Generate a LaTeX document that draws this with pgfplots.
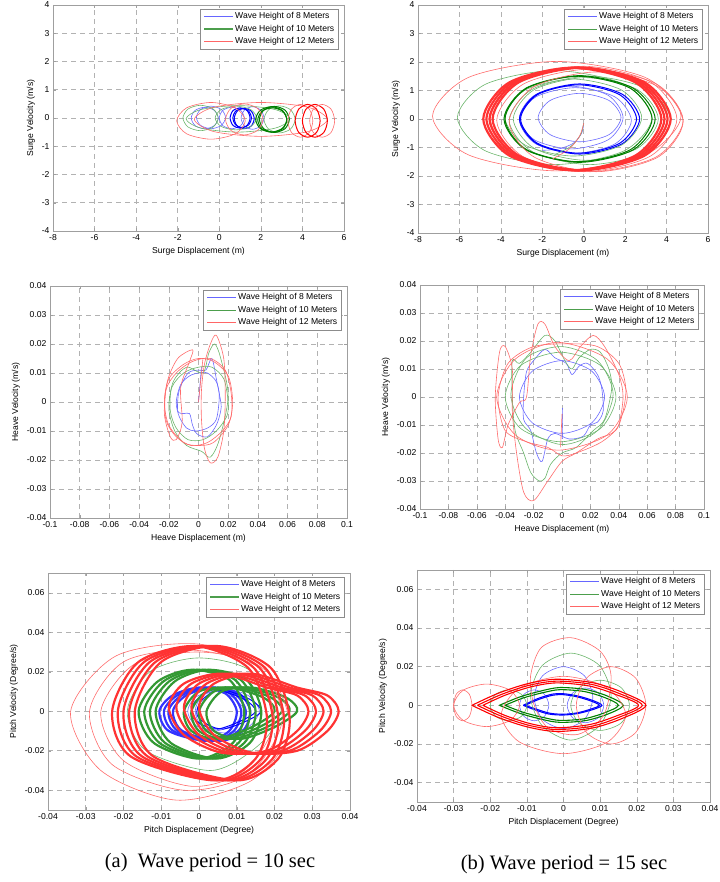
\documentclass[border=0pt]{standalone}
\usepackage{pgfplots}
\pgfplotsset{compat=1.18}
\usepackage{fontspec}
\setmainfont{Liberation Sans}
\newfontfamily\capfont{Liberation Serif}
\definecolor{mblue}{rgb}{0,0,1}
\definecolor{mgreen}{rgb}{0,0.5,0}
\definecolor{mred}{rgb}{1,0,0}
\definecolor{lblue}{rgb}{0.4,0.4,1}
\definecolor{lgreen}{rgb}{0.3,0.62,0.3}
\definecolor{lred}{rgb}{1,0.4,0.4}
\definecolor{legframe}{rgb}{0.55,0.55,0.55}
\tikzset{
  L/.style={smooth cycle, line width=0.6pt, color=#1!58},
  B/.style={smooth cycle, line width=1.0pt, color=#1},
  T/.style={smooth cycle, line width=2.2pt, color=#1!80},
  O/.style={smooth, line width=0.6pt, color=#1!58},
  BO/.style={smooth, line width=1.1pt, color=#1},
}
\pgfplotsset{
  mstyle/.style={
    scale only axis,
    scaled ticks=false,
    axis line style={gray!75, line width=0.5pt},
    every tick/.style={gray!75},
    tick align=inside,
    major tick length=3pt,
    grid=major,
    major grid style={dash pattern=on 5pt off 4pt, gray!60, line width=0.5pt},
    tick label style={font=\fontsize{8.6}{10}\selectfont},
    label style={font=\fontsize{8.6}{10}\selectfont},
  },
}
\newcommand{\mylegend}[1][0.8pt]{%
  \draw[draw=legframe, fill=white, line width=0.5pt] ([xshift=-144pt,yshift=-44pt]rel axis cs:1,1) rectangle ([xshift=-6pt,yshift=-4pt]rel axis cs:1,1);
  \node[anchor=west, inner sep=0pt] at ([xshift=-140pt,yshift=-11.5pt]rel axis cs:1,1) {\textcolor{lblue}{\rule[-0.4pt]{29pt}{0.8pt}}};
  \node[anchor=west, inner sep=0pt] at ([xshift=-140pt,yshift=-24pt]rel axis cs:1,1) {\textcolor{lgreen}{\rule[-0.5\dimexpr#1\relax]{29pt}{#1}}};
  \node[anchor=west, inner sep=0pt] at ([xshift=-140pt,yshift=-36.5pt]rel axis cs:1,1) {\textcolor{lred}{\rule[-0.4pt]{29pt}{0.8pt}}};
  \node[anchor=west, inner sep=0pt, text=black, font=\fontsize{8.6}{10}\selectfont] at ([xshift=-109pt,yshift=-11.5pt]rel axis cs:1,1) {Wave Height of 8 Meters};
  \node[anchor=west, inner sep=0pt, text=black, font=\fontsize{8.6}{10}\selectfont] at ([xshift=-109pt,yshift=-24pt]rel axis cs:1,1) {Wave Height of 10 Meters};
  \node[anchor=west, inner sep=0pt, text=black, font=\fontsize{8.6}{10}\selectfont] at ([xshift=-109pt,yshift=-36.5pt]rel axis cs:1,1) {Wave Height of 12 Meters};
}
\begin{document}
\begin{tikzpicture}
\useasboundingbox (0,0) rectangle (719pt,882pt);
% ================= TL: surge, 10 s
\begin{axis}[mstyle, at={(53pt,651pt)}, anchor=south west, width=291pt, height=226pt,
  xmin=-8, xmax=6, ymin=-4, ymax=4,
  xtick={-8,-6,-4,-2,0,2,4,6}, xticklabels={-8,-6,-4,-2,0,2,4,6},
  ytick={-4,-3,-2,-1,0,1,2,3,4}, yticklabels={-4,-3,-2,-1,0,1,2,3,4},
  xlabel={Surge Displacement (m)}, ylabel={Surge Velocity (m/s)}]
\addplot[L=mblue,forget plot] coordinates {(-0.05,0) (-0.24,0.27) (-0.7,0.38) (-1.16,0.27) (-1.35,0) (-1.16,-0.27) (-0.7,-0.38) (-0.24,-0.27)};
\addplot[L=mblue,forget plot] coordinates {(0.3,0.02) (0.1,0.3) (-0.4,0.42) (-0.9,0.3) (-1.1,0.02) (-0.9,-0.26) (-0.4,-0.38) (0.1,-0.26)};
\addplot[L=mblue,forget plot] coordinates {(1.2,0) (1.03,0.27) (0.6,0.38) (0.17,0.27) (0,0) (0.17,-0.27) (0.6,-0.38) (1.03,-0.27)};
\addplot[L=mblue,forget plot] coordinates {(2.15,0) (1.99,0.28) (1.6,0.4) (1.21,0.28) (1.05,0) (1.21,-0.28) (1.6,-0.4) (1.99,-0.28)};
\addplot[B=mblue,forget plot] coordinates {(1.48,0) (1.34,0.26) (1.0,0.36) (0.66,0.26) (0.52,0) (0.66,-0.26) (1.0,-0.36) (1.34,-0.26)};
\addplot[B=mblue,forget plot] coordinates {(1.68,-0.02) (1.54,0.24) (1.2,0.34) (0.86,0.24) (0.72,-0.02) (0.86,-0.28) (1.2,-0.38) (1.54,-0.28)};
\addplot[B=mblue,forget plot] coordinates {(1.55,0) (1.42,0.24) (1.1,0.34) (0.78,0.24) (0.65,0) (0.78,-0.24) (1.1,-0.34) (1.42,-0.24)};
\addplot[L=mgreen,forget plot] coordinates {(-0.05,0) (-0.3,0.32) (-0.9,0.45) (-1.5,0.32) (-1.75,0) (-1.5,-0.32) (-0.9,-0.45) (-0.3,-0.32)};
\addplot[L=mgreen,forget plot] coordinates {(1.8,0) (1.51,0.3) (0.8,0.42) (0.09,0.3) (-0.2,0) (0.09,-0.3) (0.8,-0.42) (1.51,-0.3)};
\addplot[L=mgreen,forget plot] coordinates {(3.65,-0.05) (3.43,0.29) (2.9,0.43) (2.37,0.29) (2.15,-0.05) (2.37,-0.39) (2.9,-0.53) (3.43,-0.39)};
\addplot[L=mgreen,forget plot] coordinates {(3.4,-0.03) (2.68,0.3) (0.9,0.44) (-0.88,0.3) (-1.6,-0.03) (-0.88,-0.36) (0.9,-0.5) (2.68,-0.36)};
\addplot[B=mgreen,forget plot] coordinates {(3.25,-0.05) (3.03,0.27) (2.5,0.4) (1.97,0.27) (1.75,-0.05) (1.97,-0.37) (2.5,-0.5) (3.03,-0.37)};
\addplot[B=mgreen,forget plot] coordinates {(3.37,-0.05) (3.16,0.28) (2.65,0.41) (2.14,0.28) (1.93,-0.05) (2.14,-0.38) (2.65,-0.51) (3.16,-0.38)};
\addplot[B=mgreen,forget plot] coordinates {(3.25,-0.07) (3.05,0.24) (2.55,0.36) (2.05,0.24) (1.85,-0.07) (2.05,-0.38) (2.55,-0.5) (3.05,-0.38)};
\addplot[L=mred,forget plot] coordinates {(1.25,-0.1) (0.77,0.36) (-0.4,0.55) (-1.57,0.36) (-2.05,-0.1) (-1.57,-0.56) (-0.4,-0.75) (0.77,-0.56)};
\addplot[L=mred,forget plot] coordinates {(2.1,-0.05) (1.84,0.34) (1.2,0.5) (0.56,0.34) (0.3,-0.05) (0.56,-0.44) (1.2,-0.6) (1.84,-0.44)};
\addplot[L=mred,forget plot] coordinates {(5.2,-0.05) (4.27,0.38) (2.0,0.55) (-0.27,0.38) (-1.2,-0.05) (-0.27,-0.48) (2.0,-0.65) (4.27,-0.48)};
\addplot[L=mred,forget plot] coordinates {(4.5,-0.1) (4.33,0.31) (3.9,0.48) (3.47,0.31) (3.3,-0.1) (3.47,-0.51) (3.9,-0.68) (4.33,-0.51)};
\addplot[B=mred,forget plot] coordinates {(4.85,-0.1) (4.68,0.31) (4.25,0.48) (3.82,0.31) (3.65,-0.1) (3.82,-0.51) (4.25,-0.68) (4.68,-0.51)};
\addplot[B=mred,forget plot] coordinates {(5.2,-0.1) (5.03,0.31) (4.6,0.48) (4.17,0.31) (4.0,-0.1) (4.17,-0.51) (4.6,-0.68) (5.03,-0.51)};
\addplot[L=mred,forget plot] coordinates {(5.55,-0.1) (5.38,0.31) (4.95,0.48) (4.52,0.31) (4.35,-0.1) (4.52,-0.51) (4.95,-0.68) (5.38,-0.51)};
\mylegend[1.1pt]
\end{axis}
% ================= TR: surge, 15 s
\begin{axis}[mstyle, at={(418pt,649pt)}, anchor=south west, width=290pt, height=228pt,
  xmin=-8, xmax=6, ymin=-4, ymax=4,
  xtick={-8,-6,-4,-2,0,2,4,6}, xticklabels={-8,-6,-4,-2,0,2,4,6},
  ytick={-4,-3,-2,-1,0,1,2,3,4}, yticklabels={-4,-3,-2,-1,0,1,2,3,4},
  xlabel={Surge Displacement (m)}, ylabel={Surge Velocity (m/s)}]
\addplot[L=mblue,forget plot] coordinates {(1.8,0.05) (1.22,0.65) (-0.2,0.9) (-1.62,0.65) (-2.2,0.05) (-1.62,-0.55) (-0.2,-0.8) (1.22,-0.55)};
\addplot[L=mblue,forget plot] coordinates {(1.9,0.05) (1.18,0.83) (-0.6,1.15) (-2.38,0.83) (-3.1,0.05) (-2.38,-0.73) (-0.6,-1.05) (1.18,-0.73)};
\addplot[L=mblue,forget plot] coordinates {(2.3,-0.05) (1.52,0.77) (-0.4,1.1) (-2.32,0.77) (-3.1,-0.05) (-2.32,-0.87) (-0.4,-1.2) (1.52,-0.87)};
\addplot[O=mblue,forget plot] coordinates {(0,-0.15) (-0.1,-0.5) (-0.5,-0.85) (-1.2,-1.05) (-2.0,-1.1)};
\addplot[B=mblue,forget plot] coordinates {(2.7,0) (1.86,0.87) (-0.2,1.23) (-2.26,0.87) (-3.1,0) (-2.26,-0.87) (-0.2,-1.23) (1.86,-0.87)};
\addplot[B=mblue,forget plot] coordinates {(2.55,0) (1.74,0.85) (-0.25,1.2) (-2.24,0.85) (-3.05,0) (-2.24,-0.85) (-0.25,-1.2) (1.74,-0.85)};
\addplot[L=mgreen,forget plot] coordinates {(3.3,0.05) (1.94,1.22) (-1.4,1.7) (-4.74,1.22) (-6.1,0.05) (-4.74,-1.12) (-1.4,-1.6) (1.94,-1.12)};
\addplot[L=mgreen,forget plot] coordinates {(3.6,0) (2.59,1.03) (0.1,1.45) (-2.39,1.03) (-3.4,0) (-2.39,-1.03) (0.1,-1.45) (2.59,-1.03)};
\addplot[L=mgreen,forget plot] coordinates {(2.8,0.05) (1.84,1.01) (-0.5,1.4) (-2.84,1.01) (-3.8,0.05) (-2.84,-0.91) (-0.5,-1.3) (1.84,-0.91)};
\addplot[L=mgreen,forget plot] coordinates {(4.2,-0.05) (3.07,1.05) (0.3,1.5) (-2.47,1.05) (-3.6,-0.05) (-2.47,-1.15) (0.3,-1.6) (3.07,-1.15)};
\addplot[O=mgreen,forget plot] coordinates {(0,-0.15) (-0.15,-0.55) (-0.6,-0.95) (-1.4,-1.25)};
\addplot[B=mgreen,forget plot] coordinates {(3.45,0) (2.39,1.08) (-0.2,1.52) (-2.79,1.08) (-3.85,0) (-2.79,-1.08) (-0.2,-1.52) (2.39,-1.08)};
\addplot[B=mgreen,forget plot] coordinates {(3.3,0) (2.27,1.07) (-0.25,1.5) (-2.77,1.07) (-3.8,0) (-2.77,-1.07) (-0.25,-1.5) (2.27,-1.07)};
\addplot[L=mred,forget plot] coordinates {(4.7,0.1) (2.96,1.46) (-1.3,2.02) (-5.56,1.46) (-7.3,0.1) (-5.56,-1.26) (-1.3,-1.82) (2.96,-1.26)};
\addplot[L=mred,forget plot] coordinates {(4.8,-0.05) (3.5,1.23) (0.3,1.75) (-2.9,1.23) (-4.2,-0.05) (-2.9,-1.33) (0.3,-1.85) (3.5,-1.33)};
\addplot[L=mred,forget plot] coordinates {(4.8,-0.1) (3.58,1.14) (0.6,1.65) (-2.38,1.14) (-3.6,-0.1) (-2.38,-1.34) (0.6,-1.85) (3.58,-1.34)};
\addplot[L=mred,forget plot] coordinates {(4.5,0) (3.2,1.31) (0,1.85) (-3.2,1.31) (-4.5,0) (-3.2,-1.31) (0,-1.85) (3.2,-1.31)};
\addplot[O=mred,forget plot] coordinates {(0,-0.15) (-0.2,-0.6) (-0.7,-1.05) (-1.5,-1.4)};
\addplot[T=mred,forget plot] coordinates {(3.75,0) (2.5,1.28) (-0.55,1.8) (-3.6,1.28) (-4.85,0) (-3.6,-1.28) (-0.55,-1.8) (2.5,-1.28)};
\addplot[T=mred,forget plot] coordinates {(3.9,0) (2.65,1.28) (-0.4,1.8) (-3.45,1.28) (-4.7,0) (-3.45,-1.28) (-0.4,-1.8) (2.65,-1.28)};
\addplot[T=mred,forget plot] coordinates {(4.05,0) (2.8,1.28) (-0.25,1.8) (-3.3,1.28) (-4.55,0) (-3.3,-1.28) (-0.25,-1.8) (2.8,-1.28)};
\addplot[T=mred,forget plot] coordinates {(4.2,0) (2.95,1.28) (-0.1,1.8) (-3.15,1.28) (-4.4,0) (-3.15,-1.28) (-0.1,-1.8) (2.95,-1.28)};
\mylegend
\end{axis}
% ================= ML: heave, 10 s
\begin{axis}[mstyle, at={(50pt,364pt)}, anchor=south west, width=297pt, height=232pt,
  xmin=-0.1, xmax=0.1, ymin=-0.04, ymax=0.04,
  xtick={-0.1,-0.08,-0.06,-0.04,-0.02,0,0.02,0.04,0.06,0.08,0.1},
  xticklabels={-0.1,-0.08,-0.06,-0.04,-0.02,0,0.02,0.04,0.06,0.08,0.1},
  ytick={-0.04,-0.03,-0.02,-0.01,0,0.01,0.02,0.03,0.04},
  yticklabels={-0.04,-0.03,-0.02,-0.01,0,0.01,0.02,0.03,0.04},
  xlabel={Heave Displacement (m)}, ylabel={Heave Velocity (m/s)}]
\addplot[L=mblue,forget plot] coordinates {(0.014,0.002) (0.012,0.007) (0.006,0.01) (0.0,0.01) (-0.006,0.009) (-0.012,0.006) (-0.015,0.0) (-0.013,-0.005) (-0.008,-0.009) (-0.002,-0.01) (0.006,-0.009) (0.012,-0.006)};
\addplot[L=mblue,forget plot] coordinates {(0.015,0.0) (0.012,0.008) (0.009,0.015) (0.005,0.011) (0,0.011) (-0.007,0.01) (-0.013,0.004) (-0.014,-0.003) (-0.01,-0.004) (-0.006,-0.004) (-0.004,-0.008) (-0.001,-0.011) (0.006,-0.012) (0.012,-0.008) (0.015,-0.003)};
\addplot[O=mblue,forget plot] coordinates {(0,0) (0.002,0.012)};
\addplot[L=mgreen,forget plot] coordinates {(0.02,0) (0.017,0.008) (0.009,0.012) (0,0.012) (-0.01,0.01) (-0.018,0.005) (-0.019,-0.003) (-0.015,-0.009) (-0.007,-0.013) (0.003,-0.013) (0.012,-0.01) (0.019,-0.005)};
\addplot[L=mgreen,forget plot] coordinates {(0.02,0.002) (0.015,0.015) (0.011,0.02) (0.007,0.017) (0.003,0.01) (-0.008,0.012) (-0.017,0.007) (-0.02,-0.002) (-0.016,-0.01) (-0.008,-0.015) (0.002,-0.017) (0.008,-0.019) (0.014,-0.013)};
\addplot[L=mred,forget plot] coordinates {(0.023,0) (0.02,0.009) (0.01,0.014) (0,0.015) (-0.01,0.013) (-0.02,0.008) (-0.023,0) (-0.02,-0.008) (-0.01,-0.014) (0,-0.015) (0.01,-0.014) (0.02,-0.008)};
\addplot[L=mred,forget plot] coordinates {(0.022,0.003) (0.018,0.011) (0.008,0.015) (-0.004,0.014) (-0.015,0.01) (-0.022,0.004) (-0.022,-0.006) (-0.015,-0.012) (-0.005,-0.015) (0.006,-0.014) (0.016,-0.01) (0.022,-0.005)};
\addplot[L=mred,forget plot] coordinates {(0.012,0.023) (0.008,0.02) (0.004,0.013) (0.002,0.004) (0.002,-0.006) (0.004,-0.016) (0.008,-0.021) (0.013,-0.019) (0.017,-0.01) (0.018,0.002) (0.017,0.015)};
\addplot[L=mred,forget plot] coordinates {(-0.004,0.018) (-0.014,0.015) (-0.021,0.007) (-0.023,-0.004) (-0.019,-0.012) (-0.015,-0.013) (-0.011,-0.007) (-0.012,0.005) (-0.006,0.014)};
\addplot[O=mred,forget plot] coordinates {(0,0) (0.003,0.015)};
\mylegend
\end{axis}
% ================= MR: heave, 15 s
\begin{axis}[mstyle, at={(420pt,373pt)}, anchor=south west, width=284pt, height=224pt,
  xmin=-0.1, xmax=0.1, ymin=-0.04, ymax=0.04,
  xtick={-0.1,-0.08,-0.06,-0.04,-0.02,0,0.02,0.04,0.06,0.08,0.1},
  xticklabels={-0.1,-0.08,-0.06,-0.04,-0.02,0,0.02,0.04,0.06,0.08,0.1},
  ytick={-0.04,-0.03,-0.02,-0.01,0,0.01,0.02,0.03,0.04},
  yticklabels={-0.04,-0.03,-0.02,-0.01,0,0.01,0.02,0.03,0.04},
  xlabel={Heave Displacement (m)}, ylabel={Heave Velocity (m/s)}]
\addplot[L=mblue,forget plot] coordinates {(0.03,0) (0.021,0.0092) (0,0.013) (-0.021,0.0092) (-0.03,0) (-0.021,-0.0092) (0,-0.013) (0.021,-0.0092)};
\addplot[L=mblue,forget plot] coordinates {(-0.027,0.0) (-0.025,0.009) (-0.02,0.013) (-0.012,0.017) (-0.005,0.014) (0.003,0.012) (0.007,0.008) (0.012,0.011) (0.018,0.012) (0.025,0.008) (0.028,0.003) (0.029,-0.005) (0.025,-0.009) (0.02,-0.01) (0.015,-0.014) (0.005,-0.015) (-0.005,-0.013) (-0.01,-0.015) (-0.014,-0.023) (-0.018,-0.02) (-0.022,-0.012) (-0.027,-0.008)};
\addplot[O=mblue,forget plot] coordinates {(0,-0.015) (0,-0.004)};
\addplot[L=mgreen,forget plot] coordinates {(0.038,0) (0.027,0.0113) (-0.001,0.016) (-0.029,0.0113) (-0.04,0) (-0.029,-0.0113) (-0.001,-0.016) (0.027,-0.0113)};
\addplot[L=mgreen,forget plot] coordinates {(0.036,0.001) (0.025,0.013) (0,0.018) (-0.025,0.014) (-0.036,0.001) (-0.026,-0.011) (0,-0.017) (0.025,-0.012)};
\addplot[L=mgreen,forget plot] coordinates {(-0.035,0.0) (-0.035,0.013) (-0.03,0.012) (-0.022,0.016) (-0.012,0.022) (-0.005,0.02) (0.002,0.013) (0.007,0.01) (0.012,0.014) (0.02,0.017) (0.027,0.016) (0.033,0.01) (0.035,0.003) (0.03,-0.008) (0.022,-0.012) (0.01,-0.018) (0,-0.02) (-0.008,-0.024) (-0.012,-0.029) (-0.016,-0.03) (-0.022,-0.027) (-0.027,-0.02) (-0.033,-0.012)};
\addplot[L=mred,forget plot] coordinates {(0.046,0) (0.032,0.0135) (-0.003,0.0195) (-0.033,0.0135) (-0.046,0) (-0.033,-0.0135) (-0.003,-0.019) (0.032,-0.0135)};
\addplot[L=mred,forget plot] coordinates {(0.045,0.002) (0.04,0.012) (0.025,0.018) (0.005,0.019) (-0.02,0.018) (-0.038,0.012) (-0.045,0.0) (-0.04,-0.012) (-0.025,-0.016) (-0.01,-0.018) (0.0,-0.021) (0.01,-0.02) (0.028,-0.016) (0.04,-0.01)};
\addplot[L=mred,forget plot] coordinates {(-0.025,0.0) (-0.022,0.015) (-0.017,0.026) (-0.012,0.026) (-0.005,0.018) (0.005,0.013) (0.013,0.018) (0.022,0.022) (0.03,0.018) (0.04,0.008) (0.043,0.0) (0.04,-0.01) (0.035,-0.013) (0.025,-0.015) (0.01,-0.02) (0.0,-0.023) (-0.01,-0.03) (-0.02,-0.037) (-0.027,-0.034) (-0.032,-0.02) (-0.035,-0.005) (-0.035,0.01) (-0.04,0.018) (-0.044,0.016) (-0.047,0.0) (-0.045,-0.015) (-0.042,-0.018) (-0.038,-0.01) (-0.03,-0.002)};
\addplot[O=mred,forget plot] coordinates {(-0.001,-0.018) (0,-0.006)};
\mylegend
\end{axis}
% ================= BL: pitch, 10 s
\begin{axis}[mstyle, at={(48pt,72pt)}, anchor=south west, width=302pt, height=237pt,
  xmin=-0.04, xmax=0.04, ymin=-0.05, ymax=0.07,
  xtick={-0.04,-0.03,-0.02,-0.01,0,0.01,0.02,0.03,0.04},
  xticklabels={-0.04,-0.03,-0.02,-0.01,0,0.01,0.02,0.03,0.04},
  ytick={-0.04,-0.02,0,0.02,0.04,0.06},
  yticklabels={-0.04,-0.02,0,0.02,0.04,0.06},
  xlabel={Pitch Displacement (Degree)}, ylabel={Pitch Velocity (Degree/s)}]
% blue
\addplot[L=mblue,forget plot] coordinates {(0.012,0) (0.009,0.007) (0.004,0.01) (-0.001,0.007) (-0.003,0) (-0.001,-0.007) (0.004,-0.01) (0.009,-0.007)};
\addplot[L=mblue,forget plot] coordinates {(0.016,0.0) (0.013,0.008) (0.007,0.011) (0.001,0.008) (-0.001,0) (0.001,-0.008) (0.007,-0.011) (0.013,-0.008)};
\addplot[T=mblue,forget plot] coordinates {(0.01,0) (0.007,0.009) (0.0,0.012) (-0.007,0.008) (-0.0105,0) (-0.008,-0.01) (0.002,-0.015) (0.008,-0.01)};
\addplot[T=mblue,forget plot] coordinates {(0.0112,0) (0.0082,0.009) (0.0012,0.012) (-0.0058,0.008) (-0.0093,0) (-0.0068,-0.01) (0.0032,-0.015) (0.0092,-0.01)};
\addplot[T=mblue,forget plot] coordinates {(0.0124,0) (0.0094,0.009) (0.0024,0.012) (-0.0046,0.008) (-0.0081,0) (-0.0056,-0.01) (0.0044,-0.015) (0.0104,-0.01)};
\addplot[T=mblue,forget plot] coordinates {(0.0136,0) (0.0106,0.009) (0.0036,0.012) (-0.0034,0.008) (-0.0069,0) (-0.0044,-0.01) (0.0056,-0.015) (0.0116,-0.01)};
\addplot[B=mblue,forget plot] coordinates {(0.015,0.0) (0.012,0.006) (0.004,0.011) (-0.001,0.005) (-0.002,-0.002) (0.001,-0.007) (0.005,-0.009) (0.011,-0.005)};
\addplot[B=mblue,forget plot] coordinates {(0.0165,0) (0.0135,0.006) (0.0055,0.011) (0.0005,0.005) (-0.0005,-0.002) (0.0025,-0.007) (0.0065,-0.009) (0.0125,-0.005)};
% green
\addplot[L=mgreen,forget plot] coordinates {(0.02,-0.005) (0.014,0.02) (0.0,0.027) (-0.013,0.02) (-0.019,0) (-0.014,-0.02) (0.003,-0.03) (0.014,-0.02)};
\addplot[T=mgreen,forget plot] coordinates {(0.012,0.0) (0.008,0.016) (-0.002,0.021) (-0.011,0.015) (-0.016,0.0) (-0.012,-0.016) (0.0,-0.024) (0.009,-0.016)};
\addplot[T=mgreen,forget plot] coordinates {(0.0135,0) (0.0095,0.016) (-0.0005,0.021) (-0.0095,0.015) (-0.0145,0) (-0.0105,-0.016) (0.0015,-0.024) (0.0105,-0.016)};
\addplot[T=mgreen,forget plot] coordinates {(0.015,0) (0.011,0.016) (0.001,0.021) (-0.008,0.015) (-0.013,0) (-0.009,-0.016) (0.003,-0.024) (0.012,-0.016)};
\addplot[T=mgreen,forget plot] coordinates {(0.0165,0) (0.0125,0.016) (0.0025,0.021) (-0.0065,0.015) (-0.0115,0) (-0.0075,-0.016) (0.0045,-0.024) (0.0135,-0.016)};
\addplot[T=mgreen,forget plot] coordinates {(0.02,0.0) (0.017,0.007) (0.008,0.012) (0.0,0.01) (-0.004,0.0) (-0.002,-0.01) (0.005,-0.014) (0.014,-0.008)};
\addplot[T=mgreen,forget plot] coordinates {(0.022,0) (0.019,0.007) (0.010,0.012) (0.002,0.01) (-0.002,0) (0.000,-0.01) (0.007,-0.014) (0.016,-0.008)};
\addplot[T=mgreen,forget plot] coordinates {(0.024,0) (0.021,0.007) (0.012,0.012) (0.004,0.01) (0.000,0) (0.002,-0.01) (0.009,-0.014) (0.018,-0.008)};
\addplot[T=mgreen,forget plot] coordinates {(0.026,0) (0.023,0.007) (0.014,0.012) (0.006,0.01) (0.002,0) (0.004,-0.01) (0.011,-0.014) (0.020,-0.008)};
% red
\addplot[L=mred,forget plot] coordinates {(0.024,-0.01) (0.018,0.02) (0.0,0.034) (-0.022,0.028) (-0.034,0.0) (-0.026,-0.03) (-0.006,-0.045) (0.014,-0.035)};
\addplot[L=mred,forget plot] coordinates {(0.022,-0.005) (0.016,0.022) (-0.002,0.031) (-0.02,0.025) (-0.029,0.0) (-0.023,-0.027) (-0.004,-0.04) (0.013,-0.032)};
\addplot[L=mred,forget plot] coordinates {(0.02,-0.005) (0.014,0.023) (0.0,0.03) (-0.017,0.024) (-0.026,0.0) (-0.02,-0.025) (-0.002,-0.038) (0.012,-0.03)};
\addplot[T=mred,forget plot] coordinates {(0.018,-0.003) (0.013,0.022) (-0.001,0.033) (-0.016,0.025) (-0.023,0.0) (-0.018,-0.023) (0.004,-0.035) (0.015,-0.024)};
\addplot[T=mred,forget plot] coordinates {(0.0195,-0.003) (0.0145,0.022) (0.0005,0.033) (-0.0145,0.025) (-0.0215,0.0) (-0.0165,-0.023) (0.0055,-0.035) (0.0165,-0.024)};
\addplot[T=mred,forget plot] coordinates {(0.021,-0.003) (0.016,0.022) (0.002,0.033) (-0.013,0.025) (-0.02,0.0) (-0.015,-0.023) (0.007,-0.035) (0.018,-0.024)};
\addplot[T=mred,forget plot] coordinates {(0.0225,-0.003) (0.0175,0.022) (0.0035,0.033) (-0.0115,0.025) (-0.0185,0.0) (-0.0135,-0.023) (0.0085,-0.035) (0.0195,-0.024)};
\addplot[T=mred,forget plot] coordinates {(0.024,-0.003) (0.019,0.022) (0.005,0.033) (-0.01,0.025) (-0.017,0.0) (-0.012,-0.023) (0.01,-0.035) (0.021,-0.024)};
\addplot[T=mred,forget plot] coordinates {(0.029,0) (0.026,0.008) (0.018,0.012) (0.006,0.019) (-0.004,0.014) (-0.008,0.002) (-0.004,-0.012) (0.006,-0.021) (0.018,-0.02) (0.026,-0.01)};
\addplot[T=mred,forget plot] coordinates {(0.031,0) (0.028,0.008) (0.020,0.012) (0.008,0.019) (-0.002,0.014) (-0.006,0.002) (-0.002,-0.012) (0.008,-0.021) (0.020,-0.02) (0.028,-0.01)};
\addplot[T=mred,forget plot] coordinates {(0.033,0) (0.030,0.008) (0.022,0.012) (0.010,0.019) (0.000,0.014) (-0.004,0.002) (0.000,-0.012) (0.010,-0.021) (0.022,-0.02) (0.030,-0.01)};
\addplot[T=mred,forget plot] coordinates {(0.035,0) (0.032,0.008) (0.024,0.012) (0.012,0.019) (0.002,0.014) (-0.002,0.002) (0.002,-0.012) (0.012,-0.021) (0.024,-0.02) (0.032,-0.01)};
\addplot[T=mred,forget plot] coordinates {(0.037,0) (0.034,0.008) (0.026,0.012) (0.014,0.019) (0.004,0.014) (0.000,0.002) (0.004,-0.012) (0.014,-0.021) (0.026,-0.02) (0.034,-0.01)};
\mylegend[1.6pt]
\end{axis}
% ================= BR: pitch, 15 s
\begin{axis}[mstyle, at={(417pt,80pt)}, anchor=south west, width=293pt, height=232pt,
  xmin=-0.04, xmax=0.04, ymin=-0.05, ymax=0.07,
  xtick={-0.04,-0.03,-0.02,-0.01,0,0.01,0.02,0.03,0.04},
  xticklabels={-0.04,-0.03,-0.02,-0.01,0,0.01,0.02,0.03,0.04},
  ytick={-0.04,-0.02,0,0.02,0.04,0.06},
  yticklabels={-0.04,-0.02,0,0.02,0.04,0.06},
  xlabel={Pitch Displacement (Degree)}, ylabel={Pitch Velocity (Degree/s)}]
% blue
\addplot[L=mblue,forget plot] coordinates {(0.008,0.004) (0.0057,0.0153) (0.0,0.02) (-0.0057,0.0153) (-0.008,0.004) (-0.0057,-0.0073) (0.0,-0.012) (0.0057,-0.0073)};
\addplot[L=mblue,forget plot] coordinates {(0.011,0) (0.0095,0.0064) (0.006,0.009) (0.0025,0.0064) (0.001,0) (0.0025,-0.0064) (0.006,-0.009) (0.0095,-0.0064)};
\addplot[L=mblue,forget plot] coordinates {(-0.004,0) (-0.0052,0.0057) (-0.008,0.008) (-0.0108,0.0057) (-0.012,0) (-0.0108,-0.0057) (-0.008,-0.008) (-0.0052,-0.0057)};
\addplot[BO=mblue,forget plot] coordinates {(-0.011,0) (-0.007,0.0035) (-0.003,0.0058) (0.0,0.006) (0.004,0.0048) (0.008,0.0025) (0.0105,0) (0.008,-0.0022) (0.004,-0.0042) (0.0,-0.005) (-0.004,-0.0045) (-0.008,-0.0022) (-0.011,0)};
\addplot[BO=mblue,forget plot] coordinates {(-0.0105,0) (-0.0067,0.0031) (-0.003,0.0052) (0.0,0.0055) (0.0037,0.0044) (0.0074,0.0023) (0.0098,0) (0.0074,-0.002) (0.0037,-0.0039) (0,-0.0046) (-0.0037,-0.0041) (-0.0074,-0.002) (-0.0105,0)};
% green
\addplot[L=mgreen,forget plot] coordinates {(0.013,0.005) (0.0098,0.0206) (0.002,0.027) (-0.0058,0.0206) (-0.009,0.005) (-0.0058,-0.0106) (0.002,-0.018) (0.0098,-0.0106)};
\addplot[L=mgreen,forget plot] coordinates {(0.018,0) (0.0157,0.0092) (0.01,0.013) (0.0043,0.0092) (0.002,0) (0.0043,-0.0092) (0.01,-0.013) (0.0157,-0.0092)};
\addplot[L=mgreen,forget plot] coordinates {(-0.01,0) (-0.0115,0.0057) (-0.015,0.008) (-0.0185,0.0057) (-0.02,0) (-0.0185,-0.0057) (-0.015,-0.008) (-0.0115,-0.0057)};
\addplot[BO=mgreen,forget plot] coordinates {(-0.0175,0) (-0.012,0.0043) (-0.006,0.0075) (-0.001,0.0092) (0.006,0.0082) (0.012,0.0048) (0.0163,0) (0.012,-0.0046) (0.006,-0.0079) (-0.001,-0.0088) (-0.006,-0.0072) (-0.012,-0.0041) (-0.0175,0)};
\addplot[BO=mgreen,forget plot] coordinates {(-0.016,0) (-0.011,0.0038) (-0.0055,0.0066) (-0.001,0.0081) (0.0055,0.0072) (0.011,0.0042) (0.015,0) (0.011,-0.004) (0.0055,-0.007) (-0.001,-0.0078) (-0.0055,-0.0063) (-0.011,-0.0036) (-0.016,0)};
% red
\addplot[L=mred,forget plot] coordinates {(0.013,0.015) (0.01,0.028) (0.002,0.035) (-0.006,0.03) (-0.009,0.015) (-0.008,0.0) (-0.004,-0.012) (0.004,-0.015) (0.011,-0.005)};
\addplot[L=mred,forget plot] coordinates {(0.0225,0) (0.0197,0.0141) (0.013,0.02) (0.0063,0.0141) (0.0035,0) (0.0063,-0.0141) (0.013,-0.02) (0.0197,-0.0141)};
\addplot[L=mred,forget plot] coordinates {(0.017,-0.005) (0.012,0.009) (0.0,0.015) (-0.012,0.009) (-0.017,-0.005) (-0.012,-0.019) (0.0,-0.025) (0.012,-0.019)};
\addplot[L=mred,forget plot] coordinates {(-0.025,0) (-0.0257,0.0057) (-0.0275,0.008) (-0.0293,0.0057) (-0.03,0) (-0.0293,-0.0057) (-0.0275,-0.008) (-0.0257,-0.0057)};
\addplot[L=mred,forget plot] coordinates {(-0.012,0) (-0.0146,0.0078) (-0.021,0.011) (-0.0274,0.0078) (-0.03,0) (-0.0274,-0.0078) (-0.021,-0.011) (-0.0146,-0.0078)};
\addplot[BO=mred,forget plot] coordinates {(-0.025,0) (-0.018,0.0061) (-0.01,0.0111) (-0.002,0.0135) (0.008,0.0117) (0.016,0.0068) (0.0225,0) (0.016,-0.0068) (0.008,-0.0117) (-0.002,-0.0135) (-0.01,-0.0111) (-0.018,-0.0061) (-0.025,0)};
\addplot[BO=mred,forget plot] coordinates {(-0.0235,0) (-0.017,0.0056) (-0.0095,0.0103) (-0.002,0.0125) (0.0075,0.0109) (0.015,0.0063) (0.0215,0) (0.015,-0.0063) (0.0075,-0.0109) (-0.002,-0.0125) (-0.0095,-0.0103) (-0.017,-0.0056) (-0.0235,0)};
\addplot[BO=mred,forget plot] coordinates {(-0.022,0) (-0.016,0.0052) (-0.009,0.0095) (-0.002,0.0116) (0.007,0.01) (0.014,0.0058) (0.0205,0) (0.014,-0.0058) (0.007,-0.01) (-0.002,-0.0116) (-0.009,-0.0095) (-0.016,-0.0052) (-0.022,0)};
\mylegend
\end{axis}
\node[font=\capfont\fontsize{20.5}{24}\selectfont] at (210pt,19pt) {(a)\ \ Wave period = 10 sec};
\node[font=\capfont\fontsize{20.5}{24}\selectfont] at (564pt,17pt) {(b) Wave period = 15 sec};
\end{tikzpicture}
\end{document}
